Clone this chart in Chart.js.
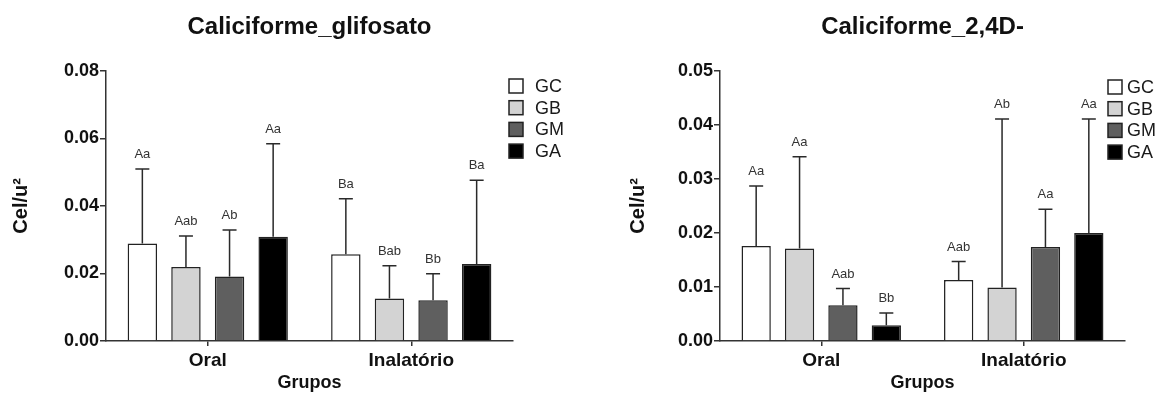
<!DOCTYPE html>
<html><head><meta charset="utf-8">
<script src="https://cdn.jsdelivr.net/npm/chart.js@4.4.0/dist/chart.umd.min.js"></script>
<style>
html,body{margin:0;padding:0;background:#fff;width:1166px;height:394px;overflow:hidden}
#c1{position:absolute;left:0;top:0}
#c2{position:absolute;left:590px;top:0}
</style></head><body>
<canvas id="c1" width="590" height="394"></canvas>
<canvas id="c2" width="576" height="394"></canvas>
<script>
// ---- data ----
const categories = ['Oral', 'Inalatório'];
const groups = ['GC', 'GB', 'GM', 'GA'];
const groupColors = ['#ffffff', '#d3d3d3', '#5f5f5f', '#000000'];

// Caliciforme_glifosato : means and (upper) SD
const glifGC = [0.0289, 0.0257], glifGCsd = [0.0220, 0.0164];
const glifGB = [0.0219, 0.0126], glifGBsd = [0.0092, 0.0097];
const glifGM = [0.0191, 0.0121], glifGMsd = [0.0138, 0.0078];
const glifGA = [0.0309, 0.0228], glifGAsd = [0.0275, 0.0248];
const glifLetters = [['Aa', 'Ba'], ['Aab', 'Bab'], ['Ab', 'Bb'], ['Aa', 'Ba']];
const glifTicks = { max: 0.08, step: 0.02 };

// Caliciforme_2,4D- : means and (upper) SD
const d24GC = [0.0176, 0.0113], d24GCsd = [0.0111, 0.0034];
const d24GB = [0.0171, 0.0099], d24GBsd = [0.0170, 0.0312];
const d24GM = [0.0066, 0.0174], d24GMsd = [0.0031, 0.0070];
const d24GA = [0.0029, 0.0200], d24GAsd = [0.0023, 0.0211];
const d24Letters = [['Aa', 'Aab'], ['Aa', 'Ab'], ['Aab', 'Aa'], ['Bb', 'Aa']];
const d24Ticks = { max: 0.05, step: 0.01 };

const FONT = '"Liberation Sans", Arial, Helvetica, sans-serif';

// error bars + letters
const errorBarPlugin = {
  id: 'errbars',
  afterDatasetsDraw(chart, args, opts) {
    const ctx = chart.ctx;
    const y = chart.scales.y;
    ctx.save();
    chart.data.datasets.forEach((ds, i) => {
      const meta = chart.getDatasetMeta(i);
      meta.data.forEach((bar, j) => {
        const top = y.getPixelForValue(ds.data[j] + ds.sd[j]);
        const x = bar.x;
        ctx.strokeStyle = '#2a2a2a';
        ctx.lineWidth = 1.5;
        ctx.beginPath();
        ctx.moveTo(x, bar.y);
        ctx.lineTo(x, top);
        ctx.moveTo(x - 7, top);
        ctx.lineTo(x + 7, top);
        ctx.stroke();
        ctx.fillStyle = '#333';
        ctx.font = '13px ' + FONT;
        ctx.textAlign = 'center';
        ctx.textBaseline = 'alphabetic';
        ctx.fillText(ds.letters[j], x, top - 11);
      });
    });
    ctx.restore();
  }
};

// legend drawn at the right, top
const legendPlugin = {
  id: 'sideLegend',
  afterDraw(chart, args, opts) {
    const ctx = chart.ctx;
    ctx.save();
    chart.data.datasets.forEach((ds, i) => {
      const cy = opts.y0 + i * 21.7;
      ctx.fillStyle = ds.backgroundColor;
      ctx.fillRect(opts.boxX, cy - 7, 14, 14);
      ctx.strokeStyle = '#222';
      ctx.lineWidth = 1.5;
      ctx.strokeRect(opts.boxX, cy - 7, 14, 14);
      ctx.fillStyle = '#1a1a1a';
      ctx.font = '18px ' + FONT;
      ctx.textAlign = 'left';
      ctx.textBaseline = 'middle';
      ctx.fillText(ds.label, opts.textX, cy + 1);
    });
    ctx.restore();
  }
};

function makeChart(id, title, means, sds, letters, tk, layoutCfg) {
  const datasets = groups.map((g, i) => ({
    label: g,
    data: means[i],
    sd: sds[i],
    letters: letters[i],
    backgroundColor: groupColors[i],
    borderColor: '#222',
    borderWidth: 1.5,
    borderSkipped: 'bottom',
    categoryPercentage: 0.857,
    barPercentage: 0.675
  }));
  return new Chart(document.getElementById(id), {
    type: 'bar',
    data: { labels: categories, datasets },
    plugins: [errorBarPlugin, legendPlugin],
    options: {
      responsive: false,
      animation: false,
      layout: { padding: { left: 0, right: layoutCfg.padRight, top: 0, bottom: 0 } },
      plugins: {
        legend: { display: false },
        tooltip: { enabled: false },
        title: {
          display: true, text: title, fullSize: false,
          color: '#111',
          font: { family: FONT, size: 24, weight: 'bold' },
          padding: { top: 13, bottom: 29 }
        },
        sideLegend: layoutCfg.legend
      },
      scales: {
        x: {
          afterFit(s) { s.height = 53; },
          border: { display: true, color: '#333', width: 1.5 },
          grid: { display: true, drawOnChartArea: false, drawTicks: true, tickLength: 5, offset: false, color: '#333', lineWidth: 1.5 },
          ticks: { color: '#111', padding: 3, font: { family: FONT, size: 19, weight: 'bold' } },
          title: { display: true, text: 'Grupos', color: '#111', padding: { top: 0, bottom: 0 }, font: { family: FONT, size: 18, weight: 'bold' } }
        },
        y: {
          min: 0, max: tk.max,
          afterFit(s) { s.width = layoutCfg.yWidth; },
          border: { display: true, color: '#333', width: 1.5 },
          grid: { display: true, drawOnChartArea: false, drawTicks: true, tickLength: 6, color: '#333', lineWidth: 1.5 },
          ticks: {
            stepSize: tk.step, color: '#111', padding: 1,
            font: { family: FONT, size: 18, weight: 'bold' },
            callback: v => Number(v).toFixed(2)
          },
          title: { display: true, text: 'Cel/u²', color: '#111', padding: { top: layoutCfg.yTitlePad, bottom: 0 }, font: { family: FONT, size: 20, weight: 'bold' } }
        }
      }
    }
  });
}

makeChart('c1', 'Caliciforme_glifosato',
  [glifGC, glifGB, glifGM, glifGA], [glifGCsd, glifGBsd, glifGMsd, glifGAsd], glifLetters, glifTicks,
  { padRight: 77, yWidth: 106, yTitlePad: 9, legend: { boxX: 509, textX: 535, y0: 86 } });

makeChart('c2', 'Caliciforme_2,4D-',
  [d24GC, d24GB, d24GM, d24GA], [d24GCsd, d24GBsd, d24GMsd, d24GAsd], d24Letters, d24Ticks,
  { padRight: 41, yWidth: 130, yTitlePad: 36, legend: { boxX: 518, textX: 537, y0: 87 } });
</script>
</body></html>
